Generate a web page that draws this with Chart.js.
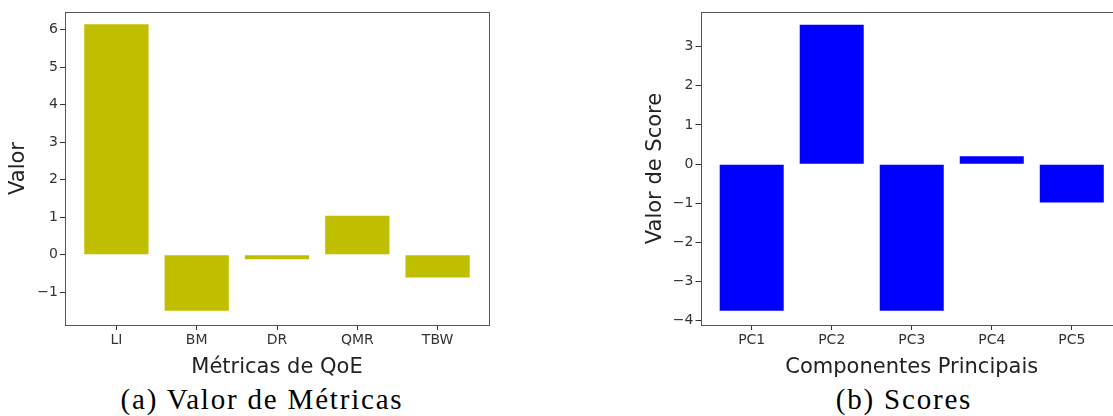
<!DOCTYPE html>
<html>
<head>
<meta charset="utf-8">
<script src="https://cdn.jsdelivr.net/npm/chart.js@4.4.1/dist/chart.umd.min.js"></script>
<style>
  html, body { margin: 0; padding: 0; background: #fff; overflow: hidden; width: 1113px; height: 416px; }
  .box { position: absolute; top: 0; height: 380px; }
  .caption {
    position: absolute; top: 385px; text-align: center;
    font-family: "Liberation Serif", serif; font-size: 29px; line-height: 29px;
    letter-spacing: 1.8px; color: #000; white-space: nowrap;
  }
</style>
</head>
<body>

<div class="box" style="left:0;width:500px;"><canvas id="metricas"></canvas></div>
<div class="box" style="left:613px;width:520px;"><canvas id="scores"></canvas></div>

<div class="caption" style="left:112px;width:300px;">(a) Valor de Métricas</div>
<div class="caption" style="left:804px;width:200px;">(b) Scores</div>

<script>
// (a) valores das métricas de QoE
var metricas = ['LI', 'BM', 'DR', 'QMR', 'TBW'];
var valoresMetricas = [6.14, -1.49, -0.12, 1.04, -0.61];
var ticksMetricas = [-1, 0, 1, 2, 3, 4, 5, 6];

// (b) scores das componentes principais
var componentes = ['PC1', 'PC2', 'PC3', 'PC4', 'PC5'];
var valoresScores = [-3.74, 3.56, -3.74, 0.20, -0.98];
var ticksScores = [-4, -3, -2, -1, 0, 1, 2, 3];

var sans = 'DejaVu Sans';

// moldura completa em volta da área do gráfico
var moldura = {
  id: 'moldura',
  afterDraw: function(chart) {
    var a = chart.chartArea, ctx = chart.ctx;
    ctx.save();
    ctx.strokeStyle = '#555';
    ctx.lineWidth = 1;
    ctx.strokeRect(Math.round(a.left) + 0.5, Math.round(a.top) + 0.5,
                   Math.round(a.right - a.left), Math.round(a.bottom - a.top));
    ctx.restore();
  }
};

function menos(v) {
  return String(v).replace('-', '\u2212');
}

function grafico(id, labels, valores, yTicks, cor, yMin, yMax, yTitulo, xTitulo, yWidth, yTitlePad, padRight) {
  var pontos = labels.map(function(l, i) { return { x: i, y: valores[i] }; });
  return new Chart(document.getElementById(id), {
    type: 'bar',
    data: {
      datasets: [{
        data: pontos,
        backgroundColor: cor,
        borderWidth: 0,
        categoryPercentage: 1.0,
        barPercentage: 0.8
      }]
    },
    options: {
      responsive: true,
      maintainAspectRatio: false,
      animation: false,
      events: [],
      layout: { padding: { top: 12, right: padRight, left: 0, bottom: 0 } },
      plugins: { legend: { display: false }, tooltip: { enabled: false } },
      scales: {
        x: {
          type: 'linear',
          offset: false,
          min: -0.64,
          max: 4.64,
          afterBuildTicks: function(s) {
            s.ticks = labels.map(function(l, i) { return { value: i }; });
          },
          afterFit: function(s) { s.height = 55; },
          border: { display: false },
          grid: { offset: false, drawOnChartArea: false, drawTicks: true, tickLength: 5, tickColor: '#333' },
          ticks: {
            padding: 2,
            color: '#333',
            font: { family: sans, size: 14 },
            maxRotation: 0,
            callback: function(v) { return labels[v]; }
          },
          title: {
            display: true, text: xTitulo, color: '#222',
            font: { family: sans, size: 21 },
            padding: { top: 7, bottom: 0 }
          }
        },
        y: {
          min: yMin,
          max: yMax,
          afterBuildTicks: function(s) {
            s.ticks = yTicks.map(function(v) { return { value: v }; });
          },
          afterFit: function(s) { s.width = yWidth; },
          border: { display: false },
          grid: { drawOnChartArea: false, drawTicks: true, tickLength: 5, tickColor: '#333' },
          ticks: {
            padding: 2,
            color: '#333',
            font: { family: sans, size: 14 },
            callback: function(v) { return menos(v); }
          },
          title: {
            display: true, text: yTitulo, color: '#222',
            font: { family: sans, size: 21 },
            padding: { top: yTitlePad, bottom: 0 }
          }
        }
      }
    },
    plugins: [moldura]
  });
}

grafico('metricas', metricas, valoresMetricas, ticksMetricas, '#bfbf00',
        -1.873, 6.467, 'Valor', 'Métricas de QoE', 65, 6, 11);
grafico('scores', componentes, valoresScores, ticksScores, '#0000ff',
        -4.107, 3.885, 'Valor de Score', 'Componentes Principais', 87.5, 30, 10);
</script>
</body>
</html>
